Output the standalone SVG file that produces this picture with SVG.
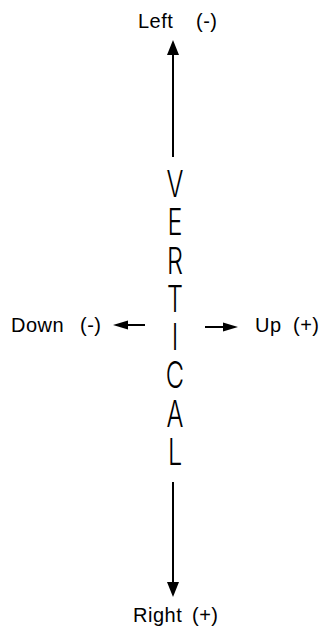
<svg xmlns="http://www.w3.org/2000/svg" width="323" height="633" viewBox="0 0 323 633">
  <style>
    .lbl { font-family: "Liberation Sans", Arial, sans-serif; font-size: 20px; fill: #000; letter-spacing: 0.5px; }
    .vert { font-family: Inter, "DejaVu Sans", sans-serif; font-weight: 300; font-size: 37px; fill: #000; text-anchor: middle; }
    .ln { stroke: #000; stroke-width: 2; fill: none; }
    .hd { fill: #000; stroke: none; }
  </style>
  <rect width="323" height="633" fill="#fff"/>

  <g id="connectors">
    <line class="ln" x1="173" y1="52" x2="173" y2="157"/>
    <polygon class="hd" points="173,40 179,55 167,55"/>
    <line class="ln" x1="173" y1="482" x2="173" y2="585"/>
    <polygon class="hd" points="173,597 179,582 167,582"/>
    <line class="ln" x1="126" y1="325" x2="145" y2="325"/>
    <polygon class="hd" points="113,325 128,320.5 128,329.5"/>
    <line class="ln" x1="205" y1="327" x2="226" y2="327"/>
    <polygon class="hd" points="238,327 223,322.5 223,331.5"/>
  </g>

  <g id="vertical">
    <g transform="translate(175,0) scale(0.68,1)">
      <text class="vert" x="0" y="197">V</text>
      <text class="vert" x="0" y="235">E</text>
      <text class="vert" x="0" y="274">R</text>
      <text class="vert" x="0" y="312">T</text>
      <text class="vert" x="0" y="350">I</text>
      <text class="vert" x="0" y="388">C</text>
      <text class="vert" x="0" y="427">A</text>
      <text class="vert" x="0" y="465">L</text>
    </g>
  </g>

  <g id="left">
    <text class="lbl" y="28"><tspan x="138">Left</tspan><tspan x="196">(-)</tspan></text>
  </g>
  <g id="right">
    <text class="lbl" y="622"><tspan x="133">Right</tspan><tspan x="192">(+)</tspan></text>
  </g>
  <g id="down">
    <text class="lbl" y="332"><tspan x="11">Down</tspan><tspan x="80">(-)</tspan></text>
  </g>
  <g id="up">
    <text class="lbl" y="332"><tspan x="255">Up</tspan><tspan x="293">(+)</tspan></text>
  </g>
</svg>
